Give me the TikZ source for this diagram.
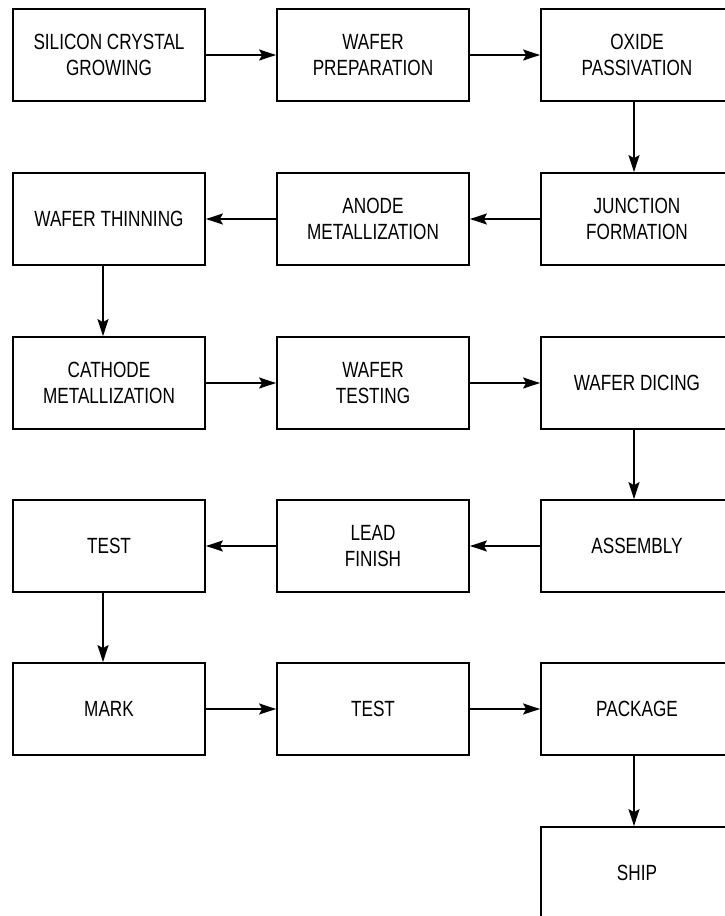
\documentclass[tikz,border=0pt]{standalone}
\usepackage{fontspec}
\newfontfamily\stagefont{Liberation Sans}[FakeStretch=0.78]
\usepackage{tikz}
\usetikzlibrary{arrows.meta}
\tikzset{
  stage/.style={draw, line width=1.8pt, minimum width=192pt, minimum height=92pt,
    inner sep=0pt, align=center, font=\stagefont\fontsize{22}{26}\selectfont},
  flow/.style={line width=1.5pt, -{Stealth[length=17pt,width=11pt,inset=3pt]}}
}

\begin{document}
\begin{tikzpicture}[x=1pt,y=-1pt]
\clip (0,0) rectangle (725,916);
\fill[white] (0,0) rectangle (725,916);
%% row 1
\node[stage] (grow) at (109,55) {SILICON CRYSTAL\\GROWING};
\node[stage] (prep) at (373,55) {WAFER\\PREPARATION};
\node[stage] (oxide) at (637,55) {OXIDE\\PASSIVATION};
%% row 2
\node[stage] (thin) at (109,219) {WAFER THINNING};
\node[stage] (anode) at (373,219) {ANODE\\METALLIZATION};
\node[stage] (junct) at (637,219) {JUNCTION\\FORMATION};
%% row 3
\node[stage] (cathode) at (109,383) {CATHODE\\METALLIZATION};
\node[stage] (wtest) at (373,383) {WAFER\\TESTING};
\node[stage] (dice) at (637,383) {WAFER DICING};
%% row 4
\node[stage] (test1) at (109,546) {TEST};
\node[stage] (lead) at (373,546) {LEAD\\FINISH};
\node[stage] (assy) at (637,546) {ASSEMBLY};
%% row 5
\node[stage] (mark) at (109,709) {MARK};
\node[stage] (test2) at (373,709) {TEST};
\node[stage] (pack) at (637,709) {PACKAGE};
%% row 6
\node[stage] (ship) at (637,873) {SHIP};
%% connectors
\draw[flow] (grow) -- (prep);
\draw[flow] (prep) -- (oxide);
\draw[flow] ([xshift=-3pt]oxide.south) -- ([xshift=-3pt]junct.north);
\draw[flow] (junct) -- (anode);
\draw[flow] (anode) -- (thin);
\draw[flow] ([xshift=-6pt]thin.south) -- ([xshift=-6pt]cathode.north);
\draw[flow] (cathode) -- (wtest);
\draw[flow] (wtest) -- (dice);
\draw[flow] ([xshift=-3pt]dice.south) -- ([xshift=-3pt]assy.north);
\draw[flow] (assy) -- (lead);
\draw[flow] (lead) -- (test1);
\draw[flow] ([xshift=-6pt]test1.south) -- ([xshift=-6pt]mark.north);
\draw[flow] (mark) -- (test2);
\draw[flow] (test2) -- (pack);
\draw[flow] ([xshift=-3pt]pack.south) -- ([xshift=-3pt]ship.north);
\end{tikzpicture}
\end{document}
